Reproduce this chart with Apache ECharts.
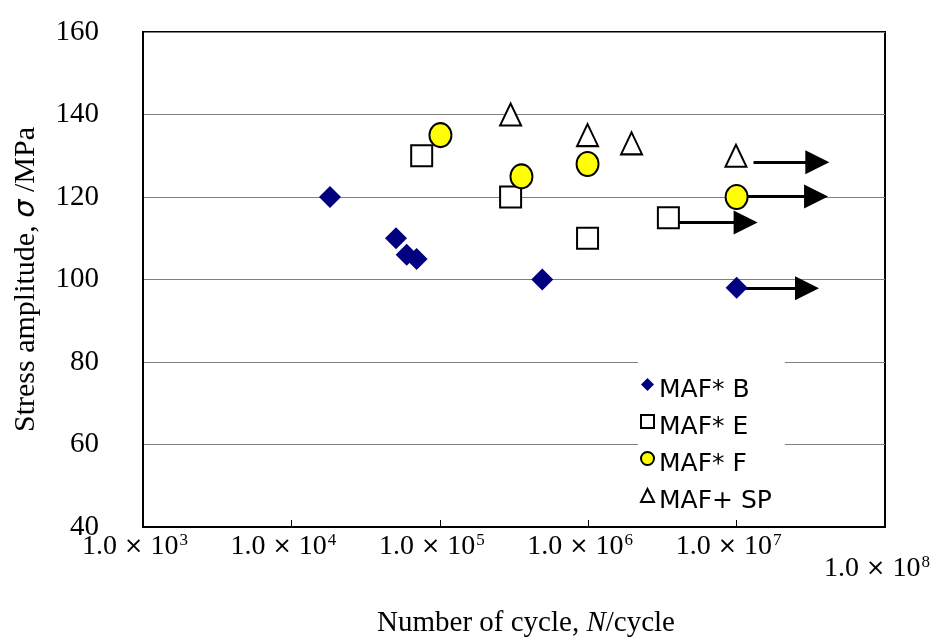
<!DOCTYPE html>
<html>
<head>
<meta charset="utf-8">
<script src="https://cdn.jsdelivr.net/npm/echarts@6/dist/echarts.min.js"></script>
<style>
    html, body {margin: 0; background: #fff;}
    #chart_1 {width: 935px; height: 640px;}
</style>
</head>
<body>
<div id="chart_1"></div>
<script>
var seriesNames = ['MAF* B', 'MAF* E', 'MAF* F', 'MAF+ SP'];

var cyclesB = [1.82e4, 5.07e4, 5.98e4, 6.98e4, 4.9e5, 1e7];
var stressB = [120, 110, 106, 105, 100, 98];

var cyclesE = [7.55e4, 3.0e5, 9.9e5, 3.47e6];
var stressE = [130, 120, 110, 115];

var cyclesF = [1.01e5, 3.55e5, 9.9e5, 1e7];
var stressF = [135, 125, 128, 120];

var cyclesSP = [3.0e5, 9.9e5, 1.96e6, 9.9e6];
var stressSP = [140, 135, 133, 130];

// run-out arrows (no failure): from, to, stress
var runoutFrom = [1.3e7, 1e7, 3.47e6, 1e7];
var runoutTo = [3.5e7, 3.43e7, 1.15e7, 2.98e7];
var runoutStress = [128.4, 120.1, 113.8, 97.9];

// x tick labels are 1.0 x 10^n
var xTickExps = [3, 4, 5, 6, 7, 8];
var yTicks = [40, 60, 80, 100, 120, 140, 160];

function pairs(xs, ys) {
    var out = [];
    for (var i = 0; i < xs.length; i++) {
        out.push([xs[i], ys[i]]);
    }
    return out;
}

var arrows = [];
for (var i = 0; i < runoutFrom.length; i++) {
    arrows.push({coords: [[runoutFrom[i], runoutStress[i]], [runoutTo[i], runoutStress[i]]]});
}

var serif = '"Liberation Serif", "Times New Roman", serif';
var sans = '"DejaVu Sans", sans-serif';

var myChart = echarts.init(document.getElementById('chart_1'));
myChart.setOption({
    animation: false,
    backgroundColor: '#fff',
    grid: {
        left: 143, right: 50, top: 32, bottom: 113,
        show: true,
        borderColor: '#000',
        borderWidth: 2,
        outerBoundsMode: 'none'
    },
    legend: {
        orient: 'vertical',
        left: 638,
        top: 359,
        padding: [7, 13, 4, 2],
        backgroundColor: '#fff',
        itemWidth: 13,
        itemHeight: 13,
        itemGap: 0,
        itemTextGap: 14,
        formatter: function (name) {
            return '{t|' + name + '}';
        },
        textStyle: {
            fontFamily: sans,
            fontSize: 25,
            color: '#000',
            rich: {
                t: {fontFamily: sans, fontSize: 25, lineHeight: 25, color: '#000', padding: [12, 0, 0, 0]}
            }
        },
        data: seriesNames
    },
    xAxis: {
        type: 'log',
        logBase: 10,
        min: Math.pow(10, xTickExps[0]),
        max: Math.pow(10, xTickExps[xTickExps.length - 1]),
        splitNumber: 5,
        name: 'Number of cycle, {i|N}/cycle',
        nameLocation: 'middle',
        nameGap: 82,
        nameTextStyle: {
            fontFamily: serif,
            fontSize: 29,
            color: '#000',
            padding: [0, 0, 0, 24],
            rich: {
                i: {fontFamily: serif, fontSize: 29, fontStyle: 'italic', color: '#000'}
            }
        },
        axisLine: {show: true, lineStyle: {color: '#000', width: 2}},
        axisTick: {show: true, inside: true, length: 7, lineStyle: {color: '#000', width: 1}},
        splitLine: {show: false},
        axisLabel: {
            margin: 5,
            formatter: function (value) {
                var e = Math.round(Math.log(value) / Math.LN10);
                var s = '{m|1.0 }{x|×}{m| 10}{s|' + e + '}';
                if (e === xTickExps[xTickExps.length - 1]) {
                    s = '{e| }\n' + s;
                }
                return s;
            },
            rich: {
                m: {fontFamily: serif, fontSize: 28, lineHeight: 30, color: '#000'},
                x: {fontFamily: sans, fontSize: 23, lineHeight: 30, color: '#000'},
                s: {fontFamily: serif, fontSize: 17, lineHeight: 30, verticalAlign: 'top', color: '#000', padding: [0, 16, 0, 1]},
                e: {fontSize: 10, lineHeight: 22}
            }
        }
    },
    yAxis: {
        type: 'value',
        min: yTicks[0],
        max: yTicks[yTicks.length - 1],
        interval: 20,
        name: '{r|Stress amplitude, }{g|σ}{r| /MPa}',
        nameLocation: 'middle',
        nameRotate: 90,
        nameGap: 102,
        nameTextStyle: {
            rich: {
                r: {fontFamily: serif, fontSize: 30, color: '#000'},
                g: {fontFamily: sans, fontSize: 29, fontStyle: 'italic', color: '#000'}
            }
        },
        axisLine: {show: true, lineStyle: {color: '#000', width: 2}},
        axisTick: {show: false},
        splitLine: {show: true, lineStyle: {color: '#808080', width: 1, type: 'solid'}},
        axisLabel: {
            margin: 44,
            fontFamily: serif,
            fontSize: 29,
            color: '#000',
            padding: [0, 0, 14, 0]
        }
    },
    series: [
        {
            type: 'lines',
            coordinateSystem: 'cartesian2d',
            z: 1,
            silent: true,
            symbol: ['none', 'triangle'],
            symbolSize: 24,
            lineStyle: {color: '#000', width: 3, opacity: 1},
            data: arrows
        },
        {
            name: seriesNames[0],
            type: 'scatter',
            z: 3,
            symbol: 'diamond',
            symbolSize: 22,
            itemStyle: {color: '#000080', opacity: 1},
            data: pairs(cyclesB, stressB)
        },
        {
            name: seriesNames[1],
            type: 'scatter',
            z: 3,
            symbol: 'rect',
            symbolSize: 21,
            itemStyle: {color: '#fff', borderColor: '#000', borderWidth: 2, opacity: 1},
            data: pairs(cyclesE, stressE)
        },
        {
            name: seriesNames[2],
            type: 'scatter',
            z: 3,
            symbol: 'circle',
            symbolSize: [22, 24],
            itemStyle: {color: '#ffff00', borderColor: '#000', borderWidth: 2, opacity: 1},
            data: pairs(cyclesF, stressF)
        },
        {
            name: seriesNames[3],
            type: 'scatter',
            z: 3,
            symbol: 'triangle',
            symbolSize: [21, 22],
            itemStyle: {color: '#fff', borderColor: '#000', borderWidth: 2, opacity: 1},
            data: pairs(cyclesSP, stressSP)
        }
    ]
});
</script>
</body>
</html>
